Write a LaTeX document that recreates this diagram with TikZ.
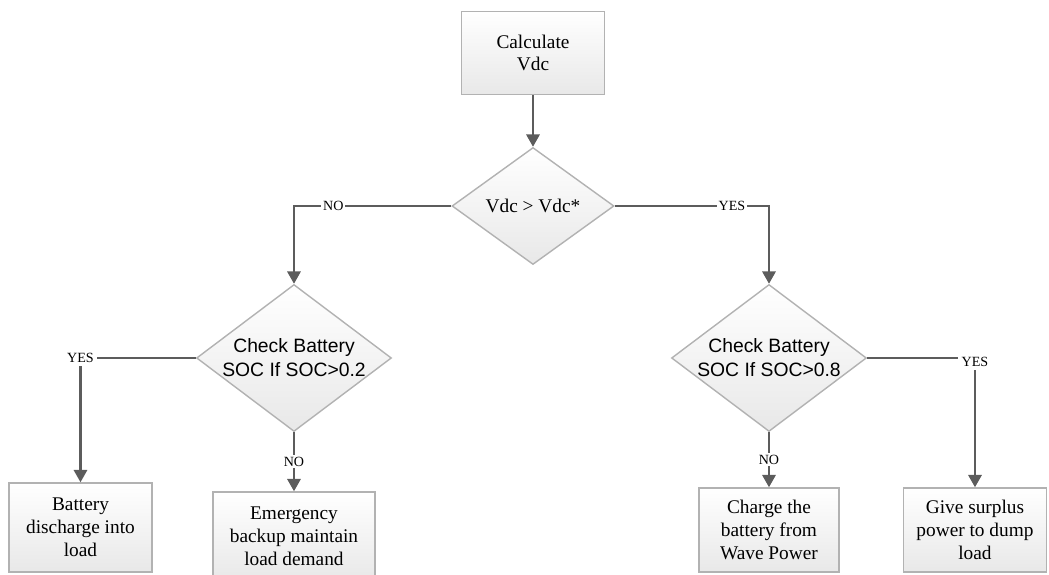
\documentclass[tikz,border=0pt]{standalone}
\usepackage{fontspec}
\setmainfont{Liberation Serif}
\newfontfamily\diamfont{Liberation Sans}
\usetikzlibrary{positioning}
\usetikzlibrary{shapes.geometric}
\usetikzlibrary{arrows.meta}

\begin{document}
\begin{tikzpicture}[>={Triangle[length=7pt,width=7.5pt]},semithick,
  font=\fontsize{11}{13}\selectfont,
  process/.style={rectangle,draw=gray!60,line width=0.8pt,top color=white,bottom color=gray!18,
                  align=center,minimum width=2.86cm,minimum height=1.72cm,inner sep=2pt},
  decision/.style={diamond,draw=gray!60,line width=0.8pt,top color=white,bottom color=gray!18,
                   align=center,inner sep=0pt},
  flow/.style={->,draw=black!64,line width=1.35pt},
  answer/.style={fill=white,inner sep=1pt,anchor=center,font=\fontsize{8}{9}\selectfont}]
\useasboundingbox (-10.66,1.06) rectangle (10.32,-10.44);

\node[process,minimum height=1.66cm]  (calc)                                             {Calculate\\Vdc};
\node[decision,minimum width=3.24cm,minimum height=2.34cm] (vdc) [below of=calc,node distance=3.06cm] {Vdc > Vdc*};
\node[decision,shape aspect=1.33,inner sep=-1.5pt,minimum width=3.9cm,minimum height=2.94cm,font=\diamfont\fontsize{11}{13.7}\selectfont]
      (soclo) [below of=vdc,node distance=3.04cm,xshift=-4.78cm] {Check Battery\\SOC If SOC>0.2};
\node[decision,shape aspect=1.33,inner sep=-1.5pt,minimum width=3.9cm,minimum height=2.94cm,font=\diamfont\fontsize{11}{13.7}\selectfont]
      (sochi) [below of=vdc,node distance=3.04cm,xshift=4.72cm]  {Check Battery\\SOC If SOC>0.8};
\node[process,minimum height=1.78cm] (batt)   [below of=soclo,node distance=3.39cm,xshift=-4.27cm] {Battery\\discharge into\\load};
\node[process,minimum width=3.24cm,minimum height=1.78cm] (emerg) [below of=soclo,node distance=3.57cm] {Emergency\\backup maintain\\load demand};
\node[process,minimum width=2.8cm,minimum height=1.68cm]  (charge) [below of=sochi,node distance=3.44cm] {Charge the\\battery from\\Wave Power};
\node[process,minimum height=1.68cm] (give)   [below of=sochi,node distance=3.44cm,xshift=4.12cm]  {Give surplus\\power to dump\\load};

\draw[flow] (calc.south)  -- (vdc.north);
\draw[flow] (soclo.south) -- node[answer] {NO} (emerg.north);
\draw[flow] (sochi.south) -- node[answer] {NO} (charge.north);
\draw[flow] (vdc.west)   -| node[answer,pos=0.375] {NO}  (soclo.north);
\draw[flow] (vdc.east)   -| node[answer,pos=0.38]  {YES} (sochi.north);
\draw[flow] (soclo.west) -| node[answer,pos=0.5,inner sep=2pt] {YES} (batt.north);
\draw[flow] (sochi.east) -| node[answer,pos=0.5,inner sep=2pt,yshift=-2pt] {YES} (give.north);

\end{tikzpicture}
\end{document}
